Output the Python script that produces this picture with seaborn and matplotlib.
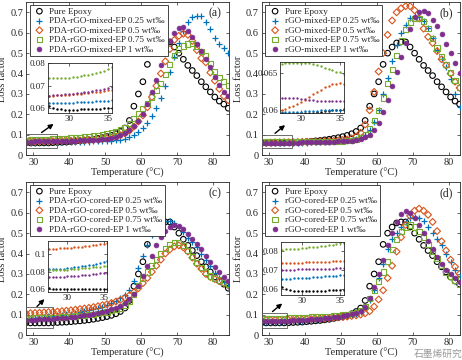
import matplotlib
matplotlib.use("Agg")
import matplotlib.pyplot as plt
import seaborn as sns

sns.set_style("ticks")
plt.rcParams["font.family"] = ["Liberation Serif", "DejaVu Serif"]
plt.rcParams["axes.linewidth"] = 0.6

# temperature grid (°C) of the main curves and of the zoomed insets
temps = [28.0, 29.25, 30.5, 31.75, 33.0, 34.25, 35.5, 36.75, 38.0, 39.25, 40.5, 41.75,
         43.0, 44.25, 45.5, 46.75, 48.0, 49.25, 50.5, 51.75, 53.0, 54.25, 55.5, 56.75,
         58.0, 59.25, 60.5, 61.75, 63.0, 64.25, 65.5, 66.75, 68.0, 69.25, 70.5, 71.75,
         73.0, 74.25, 75.5, 76.75, 78.0, 79.25, 80.5, 81.75, 83.0, 84.25]
inset_temps = [27.5, 28.0, 28.5, 29.0, 29.5, 30.0, 30.5, 31.0, 31.5, 32.0, 32.5, 33.0,
               33.5, 34.0, 34.5, 35.0, 35.5]

pure_epoxy = [0.061, 0.060, 0.060, 0.060, 0.060, 0.060, 0.061, 0.062, 0.063, 0.064, 0.066, 0.068,
              0.070, 0.072, 0.075, 0.078, 0.082, 0.086, 0.091, 0.097, 0.105, 0.116, 0.133, 0.17,
              0.24, 0.30, 0.36, 0.445, 0.50, 0.53, 0.55, 0.555, 0.555, 0.53, 0.50, 0.47,
              0.44, 0.415, 0.39, 0.36, 0.335, 0.31, 0.285, 0.265, 0.25, 0.23]

# (a) PDA-rGO-mixed-EP
a_025 = [0.062, 0.062, 0.062, 0.063, 0.063, 0.063, 0.064, 0.064, 0.064, 0.065, 0.065, 0.065,
         0.066, 0.066, 0.066, 0.067, 0.067, 0.068, 0.069, 0.070, 0.072, 0.075, 0.080, 0.088,
         0.10, 0.115, 0.135, 0.16, 0.19, 0.23, 0.28, 0.34, 0.41, 0.48, 0.55, 0.61,
         0.655, 0.675, 0.68, 0.68, 0.655, 0.62, 0.575, 0.545, 0.525, 0.50]
a_05 = [0.066, 0.066, 0.067, 0.067, 0.068, 0.068, 0.069, 0.069, 0.070, 0.070, 0.071, 0.071,
        0.072, 0.073, 0.074, 0.075, 0.077, 0.079, 0.082, 0.086, 0.091, 0.098, 0.107, 0.12,
        0.14, 0.165, 0.195, 0.235, 0.285, 0.34, 0.40, 0.46, 0.52, 0.565, 0.585, 0.595,
        0.59, 0.56, 0.515, 0.475, 0.455, 0.405, 0.365, 0.325, 0.29, 0.27]
a_075 = [0.073, 0.074, 0.075, 0.076, 0.077, 0.078, 0.079, 0.080, 0.082, 0.083, 0.085, 0.086,
         0.088, 0.090, 0.092, 0.094, 0.097, 0.100, 0.104, 0.109, 0.115, 0.123, 0.135, 0.155,
         0.18, 0.205, 0.23, 0.255, 0.285, 0.315, 0.35, 0.395, 0.445, 0.49, 0.52, 0.535,
         0.545, 0.548, 0.535, 0.51, 0.49, 0.45, 0.41, 0.38, 0.36, 0.34]
a_1 = [0.066, 0.066, 0.067, 0.067, 0.068, 0.069, 0.070, 0.070, 0.070, 0.071, 0.071, 0.071,
       0.072, 0.072, 0.073, 0.074, 0.075, 0.077, 0.080, 0.084, 0.090, 0.097, 0.107, 0.122,
       0.142, 0.168, 0.20, 0.25, 0.31, 0.37, 0.44, 0.50, 0.56, 0.60, 0.625, 0.627,
       0.61, 0.58, 0.545, 0.51, 0.47, 0.43, 0.385, 0.345, 0.31, 0.29]

# (b) rGO-mixed-EP
b_025 = [0.0598, 0.0598, 0.0599, 0.0599, 0.060, 0.060, 0.0601, 0.061, 0.061, 0.062, 0.062, 0.063,
         0.063, 0.064, 0.065, 0.066, 0.067, 0.068, 0.070, 0.072, 0.075, 0.080, 0.088, 0.10,
         0.125, 0.165, 0.22, 0.30, 0.38, 0.46, 0.54, 0.60, 0.64, 0.67, 0.68, 0.675,
         0.66, 0.625, 0.575, 0.515, 0.47, 0.43, 0.375, 0.30, 0.235, 0.21]
b_05 = [0.0602, 0.0608, 0.0616, 0.0627, 0.0633, 0.0637, 0.0637, 0.064, 0.0645, 0.065, 0.0655, 0.066,
        0.0665, 0.067, 0.068, 0.069, 0.070, 0.072, 0.074, 0.077, 0.082, 0.092, 0.11, 0.15,
        0.22, 0.31, 0.41, 0.50, 0.59, 0.66, 0.70, 0.72, 0.73, 0.73, 0.71, 0.67,
        0.62, 0.58, 0.55, 0.51, 0.47, 0.44, 0.40, 0.36, 0.33, 0.30]
b_075 = [0.0663, 0.0664, 0.0664, 0.066, 0.0655, 0.065, 0.065, 0.065, 0.065, 0.065, 0.065, 0.065,
         0.065, 0.065, 0.065, 0.066, 0.066, 0.067, 0.068, 0.070, 0.073, 0.078, 0.086, 0.10,
         0.13, 0.17, 0.22, 0.28, 0.35, 0.42, 0.49, 0.56, 0.615, 0.65, 0.67, 0.67,
         0.655, 0.62, 0.57, 0.525, 0.485, 0.445, 0.405, 0.365, 0.33, 0.30]
b_1 = [0.0616, 0.0616, 0.0615, 0.0614, 0.0613, 0.0613, 0.0613, 0.0615, 0.062, 0.0625, 0.063, 0.0635,
       0.064, 0.0645, 0.065, 0.0655, 0.066, 0.067, 0.068, 0.069, 0.071, 0.074, 0.079, 0.087,
       0.10, 0.125, 0.16, 0.21, 0.27, 0.34, 0.41, 0.48, 0.55, 0.62, 0.675, 0.70,
       0.705, 0.695, 0.665, 0.635, 0.595, 0.545, 0.50, 0.45, 0.405, 0.37]

# (c) PDA-rGO-cored-EP
c_025 = [0.082, 0.084, 0.086, 0.088, 0.090, 0.093, 0.095, 0.098, 0.100, 0.103, 0.106, 0.110,
         0.114, 0.118, 0.123, 0.128, 0.134, 0.140, 0.148, 0.157, 0.167, 0.18, 0.196, 0.22,
         0.265, 0.33, 0.39, 0.44, 0.49, 0.52, 0.545, 0.56, 0.56, 0.55, 0.53, 0.505,
         0.475, 0.455, 0.43, 0.40, 0.37, 0.34, 0.305, 0.28, 0.26, 0.24]
c_05 = [0.107, 0.108, 0.109, 0.110, 0.112, 0.113, 0.114, 0.116, 0.118, 0.120, 0.122, 0.125,
        0.128, 0.131, 0.134, 0.138, 0.142, 0.147, 0.152, 0.158, 0.165, 0.173, 0.183, 0.195,
        0.21, 0.23, 0.255, 0.28, 0.31, 0.34, 0.37, 0.40, 0.42, 0.435, 0.44, 0.43,
        0.41, 0.38, 0.35, 0.325, 0.30, 0.285, 0.275, 0.265, 0.255, 0.245]
c_075 = [0.082, 0.083, 0.084, 0.085, 0.086, 0.086, 0.087, 0.088, 0.089, 0.090, 0.092, 0.094,
         0.096, 0.098, 0.100, 0.103, 0.106, 0.110, 0.114, 0.119, 0.125, 0.133, 0.145, 0.165,
         0.20, 0.245, 0.28, 0.31, 0.34, 0.37, 0.40, 0.425, 0.445, 0.455, 0.455, 0.44,
         0.415, 0.385, 0.355, 0.33, 0.31, 0.29, 0.28, 0.27, 0.26, 0.25]
c_1 = [0.074, 0.075, 0.076, 0.077, 0.078, 0.079, 0.080, 0.082, 0.084, 0.086, 0.088, 0.091,
       0.094, 0.097, 0.100, 0.104, 0.108, 0.113, 0.119, 0.126, 0.134, 0.144, 0.157, 0.175,
       0.20, 0.24, 0.29, 0.34, 0.39, 0.44, 0.48, 0.51, 0.53, 0.54, 0.535, 0.52,
       0.495, 0.47, 0.445, 0.42, 0.39, 0.36, 0.335, 0.31, 0.285, 0.265]

# (d) rGO-cored-EP
d_025 = [0.0656, 0.066, 0.0663, 0.0665, 0.0668, 0.0672, 0.0676, 0.068, 0.069, 0.070, 0.071, 0.073,
         0.075, 0.077, 0.079, 0.081, 0.084, 0.087, 0.090, 0.094, 0.099, 0.105, 0.115, 0.135,
         0.17, 0.22, 0.28, 0.35, 0.42, 0.47, 0.50, 0.53, 0.555, 0.575, 0.58, 0.575,
         0.56, 0.53, 0.50, 0.47, 0.44, 0.40, 0.36, 0.32, 0.29, 0.27]
d_05 = [0.0739, 0.074, 0.0742, 0.0744, 0.0746, 0.0747, 0.0748, 0.075, 0.076, 0.077, 0.078, 0.079,
        0.080, 0.081, 0.082, 0.083, 0.085, 0.087, 0.089, 0.091, 0.094, 0.097, 0.101, 0.107,
        0.117, 0.14, 0.175, 0.22, 0.28, 0.34, 0.41, 0.48, 0.54, 0.585, 0.61, 0.62,
        0.61, 0.59, 0.555, 0.51, 0.46, 0.415, 0.37, 0.335, 0.30, 0.28]
d_075 = [0.0809, 0.0812, 0.0815, 0.0818, 0.0825, 0.0835, 0.0845, 0.085, 0.086, 0.087, 0.088, 0.089,
         0.090, 0.091, 0.092, 0.093, 0.095, 0.097, 0.099, 0.102, 0.106, 0.111, 0.12, 0.14,
         0.18, 0.22, 0.265, 0.31, 0.36, 0.42, 0.47, 0.51, 0.53, 0.54, 0.53, 0.51,
         0.48, 0.445, 0.41, 0.375, 0.34, 0.31, 0.29, 0.27, 0.25, 0.235]
d_1 = [0.0703, 0.0704, 0.0705, 0.0706, 0.0707, 0.0708, 0.071, 0.072, 0.073, 0.074, 0.075, 0.077,
       0.079, 0.081, 0.083, 0.085, 0.087, 0.090, 0.093, 0.097, 0.102, 0.108, 0.118, 0.14,
       0.18, 0.235, 0.30, 0.37, 0.44, 0.50, 0.555, 0.595, 0.61, 0.60, 0.575, 0.54,
       0.50, 0.46, 0.42, 0.385, 0.35, 0.32, 0.30, 0.28, 0.26, 0.245]

# inset (zoom of 28-35 °C) values
ia_pure = [0.0612, 0.0603, 0.0598, 0.0596, 0.0595, 0.0595, 0.0595, 0.0595, 0.0596, 0.0596, 0.0597,
           0.0598, 0.0598, 0.0599, 0.060, 0.0601, 0.0602]
ia_025 = [0.0622, 0.0622, 0.0623, 0.0623, 0.0624, 0.0624, 0.0625, 0.0626, 0.0627, 0.0628, 0.0629,
          0.063, 0.0631, 0.0632, 0.0633, 0.0634, 0.0636]
ia_05 = [0.0655, 0.0656, 0.0657, 0.0658, 0.0659, 0.066, 0.0662, 0.0663, 0.0665, 0.0667, 0.0669,
         0.067, 0.0672, 0.0674, 0.0676, 0.0679, 0.0682]
ia_075 = [0.0733, 0.0732, 0.0732, 0.0733, 0.0734, 0.0735, 0.0737, 0.0739, 0.0742, 0.0745, 0.0748,
          0.0752, 0.0756, 0.0761, 0.0766, 0.0773, 0.0783]
ia_1 = [0.0656, 0.0657, 0.0658, 0.066, 0.0661, 0.0663, 0.0665, 0.0667, 0.0669, 0.0671, 0.0674,
        0.0676, 0.0679, 0.0682, 0.0685, 0.0689, 0.0693]

ib_pure = [0.0596, 0.0595, 0.0595, 0.0595, 0.0596, 0.0596, 0.0596, 0.0597, 0.0597, 0.0598, 0.0598,
           0.0599, 0.0599, 0.060, 0.060, 0.0601, 0.0602]
ib_025 = [0.0598, 0.0598, 0.0598, 0.0598, 0.0598, 0.0598, 0.0599, 0.0599, 0.0599, 0.0599, 0.060,
          0.060, 0.060, 0.060, 0.0601, 0.0601, 0.0601]
ib_05 = [0.060, 0.0602, 0.0604, 0.0606, 0.0609, 0.0611, 0.0614, 0.0618, 0.0622, 0.0625, 0.0628,
         0.0631, 0.0633, 0.0635, 0.0636, 0.0637, 0.0636]
ib_075 = [0.0662, 0.0663, 0.0663, 0.0663, 0.0664, 0.0664, 0.0664, 0.0663, 0.0662, 0.0661, 0.0659,
          0.0657, 0.0656, 0.0654, 0.0652, 0.0651, 0.0649]
ib_1 = [0.0616, 0.0616, 0.0616, 0.0616, 0.0616, 0.0615, 0.0615, 0.0614, 0.0614, 0.0613, 0.0613,
        0.0613, 0.0613, 0.0613, 0.0613, 0.0613, 0.0613]

ic_pure = [0.0612, 0.0606, 0.0604, 0.0603, 0.0603, 0.0603, 0.0603, 0.0603, 0.0603, 0.0603, 0.0603,
           0.0603, 0.0603, 0.0604, 0.0604, 0.0604, 0.0605]
ic_025 = [0.0826, 0.0827, 0.0829, 0.0832, 0.0835, 0.0839, 0.0843, 0.0848, 0.0853, 0.0859, 0.0866,
          0.0873, 0.0881, 0.089, 0.0899, 0.091, 0.0925]
ic_05 = [0.1055, 0.1058, 0.106, 0.1063, 0.1066, 0.1069, 0.1072, 0.1076, 0.108, 0.1084, 0.1088,
         0.1093, 0.1098, 0.1103, 0.1109, 0.1115, 0.1122]
ic_075 = [0.0815, 0.0816, 0.0818, 0.082, 0.0822, 0.0824, 0.0827, 0.083, 0.0833, 0.0836, 0.084,
          0.0843, 0.0847, 0.0851, 0.0855, 0.086, 0.0865]
ic_1 = [0.0735, 0.0736, 0.0738, 0.074, 0.0742, 0.0745, 0.0748, 0.0751, 0.0754, 0.0758, 0.0762,
        0.0766, 0.077, 0.0774, 0.0779, 0.0784, 0.0789]

id_pure = [0.0612, 0.0603, 0.0595, 0.0591, 0.0589, 0.0589, 0.0589, 0.059, 0.059, 0.0591, 0.0592,
           0.0593, 0.0594, 0.0595, 0.0596, 0.0597, 0.0598]
id_025 = [0.0655, 0.0656, 0.0656, 0.0657, 0.0658, 0.0659, 0.066, 0.0661, 0.0663, 0.0664, 0.0666,
          0.0667, 0.0669, 0.067, 0.0672, 0.0674, 0.0676]
id_05 = [0.0739, 0.0739, 0.0739, 0.0739, 0.074, 0.074, 0.0741, 0.0741, 0.0742, 0.0743, 0.0743,
         0.0744, 0.0745, 0.0746, 0.0747, 0.0748, 0.0749]
id_075 = [0.0808, 0.0809, 0.081, 0.0811, 0.0813, 0.0815, 0.0817, 0.0819, 0.0821, 0.0823, 0.0826,
          0.0828, 0.0831, 0.0834, 0.0837, 0.084, 0.0843]
id_1 = [0.0703, 0.0703, 0.0703, 0.0703, 0.0704, 0.0704, 0.0704, 0.0705, 0.0705, 0.0706, 0.0706,
        0.0707, 0.0707, 0.0708, 0.0709, 0.071, 0.0711]

loadings = ["0.25", "0.5", "0.75", "1"]
colors = ["#0072BD", "#D95319", "#77AC30", "#7E2F8E"]
markers = ["+", "D", "s", "o"]
sizes = [22, 12, 14, 12]

fig = plt.figure(figsize=(4.62, 3.6), dpi=100)


def fmt(v, pos):
    return "0" if v == 0 else "%g" % v


def style_axes(ax, fs):
    ax.tick_params(direction="in", top=True, right=True, length=2.5, width=0.5,
                   labelsize=fs, pad=2)
    for s in ax.spines.values():
        s.set_color("#262626")
        s.set_linewidth(0.6)


def panel(rect, tag, prefix, series, xmax, inset_rect, inset_series, inset_y, inset_yt,
          box, arrow):
    ax = fig.add_axes(rect)
    sns.scatterplot(x=temps, y=pure_epoxy, ax=ax, marker="o", s=16, facecolor="none",
                    edgecolor="k", linewidth=0.8, label="Pure Epoxy", zorder=3)
    for vals, lo, c, m, sz in zip(series, loadings, colors, markers, sizes):
        lab = "%s-EP %s wt‰" % (prefix, lo)
        if m == "+":
            sns.scatterplot(x=temps, y=vals, ax=ax, marker=m, s=sz, color=c,
                            linewidth=0.9, label=lab, zorder=3)
        elif m == "o":
            sns.scatterplot(x=temps, y=vals, ax=ax, marker=m, s=sz, color=c,
                            edgecolor=c, linewidth=0.5, label=lab, zorder=3)
        else:
            sns.scatterplot(x=temps, y=vals, ax=ax, marker=m, s=sz, facecolor="none",
                            edgecolor=c, linewidth=0.8, label=lab, zorder=3)
    ax.set_xlim(28, xmax)
    ax.set_ylim(0, 0.75)
    ax.set_xticks([30, 40, 50, 60, 70, 80])
    ax.set_yticks([0, 0.1, 0.2, 0.3, 0.4, 0.5, 0.6, 0.7])
    ax.yaxis.set_major_formatter(plt.FuncFormatter(fmt))
    style_axes(ax, 7.5)
    ax.set_xlabel("Temperature (°C)", fontsize=7.5, labelpad=1)
    ax.set_ylabel("Loss factor", fontsize=7.5, labelpad=2)
    ax.text(0.965, 0.93, tag, transform=ax.transAxes, ha="right", va="center", fontsize=8.5)
    leg = ax.legend(loc="upper left", bbox_to_anchor=(0.005, 1.0), fontsize=6.6,
                    frameon=True, fancybox=False, framealpha=1, edgecolor="#262626",
                    handletextpad=0.3, borderpad=0.25, labelspacing=0.12,
                    handlelength=1.6, borderaxespad=0.3)
    leg.get_frame().set_linewidth(0.6)
    # rectangle marking the zoomed region and arrow to the inset
    ax.add_patch(plt.Rectangle((box[0], box[1]), box[2] - box[0], box[3] - box[1],
                               fill=False, ec="#555555", lw=0.6, zorder=4))
    ax.annotate("", xy=arrow[2:], xytext=arrow[:2],
                arrowprops=dict(arrowstyle="-|>", color="k", lw=1.0, mutation_scale=7))

    ins = fig.add_axes(inset_rect)
    sns.scatterplot(x=inset_temps, y=inset_series[0], ax=ins, marker="o", s=3, color="k",
                    edgecolor="k", linewidth=0)
    for vals, c in zip(inset_series[1:], colors):
        sns.scatterplot(x=inset_temps, y=vals, ax=ins, marker="o", s=3, color=c,
                        edgecolor=c, linewidth=0)
    ins.set_xlim(27.3, 35.5)
    ins.set_ylim(*inset_y)
    ins.set_xticks([30, 35])
    ins.set_yticks(inset_yt)
    ins.yaxis.set_major_formatter(plt.FuncFormatter(fmt))
    style_axes(ins, 6.5)
    ins.tick_params(pad=1.5)
    return ax


panel([0.0563, 0.569, 0.439, 0.425], "(a)", "PDA-rGO-mixed", [a_025, a_05, a_075, a_1], 84.4,
      [0.1032, 0.685, 0.139, 0.1406],
      [ia_pure, ia_025, ia_05, ia_075, ia_1], (0.0578, 0.080), [0.06, 0.07, 0.08],
      (28, 0.034, 36.5, 0.103), (31.7, 0.103, 36.3, 0.161))
panel([0.5665, 0.569, 0.429, 0.425], "(b)", "rGO-mixed", [b_025, b_05, b_075, b_1], 83.1,
      [0.606, 0.685, 0.139, 0.143],
      [ib_pure, ib_025, ib_05, ib_075, ib_1], (0.0596, 0.0665), [0.06, 0.065],
      (28, 0.033, 36.5, 0.0985), (31.1, 0.0985, 35.1, 0.156))
panel([0.0563, 0.069, 0.439, 0.425], "(c)", "PDA-rGO-cored", [c_025, c_05, c_075, c_1], 84.4,
      [0.103, 0.19, 0.129, 0.141],
      [ic_pure, ic_025, ic_05, ic_075, ic_1], (0.0573, 0.115), [0.06, 0.08, 0.1],
      (28, 0.033, 35.4, 0.139), (30.5, 0.131, 33.7, 0.186))
panel([0.5665, 0.069, 0.429, 0.425], "(d)", "rGO-cored", [d_025, d_05, d_075, d_1], 83.1,
      [0.608, 0.1806, 0.137, 0.148],
      [id_pure, id_025, id_05, id_075, id_1], (0.057, 0.0849), [0.06, 0.07, 0.08],
      (28, 0.033, 34.9, 0.107), (30.4, 0.107, 34.3, 0.164))

# watermark of the source
fig.text(0.948, 0.016, "石墨烯研究", fontsize=7, color="#9a9a9a", ha="center", va="center",
         family=["Noto Sans CJK SC", "DejaVu Sans"])

fig.savefig("out.png", dpi=100)
